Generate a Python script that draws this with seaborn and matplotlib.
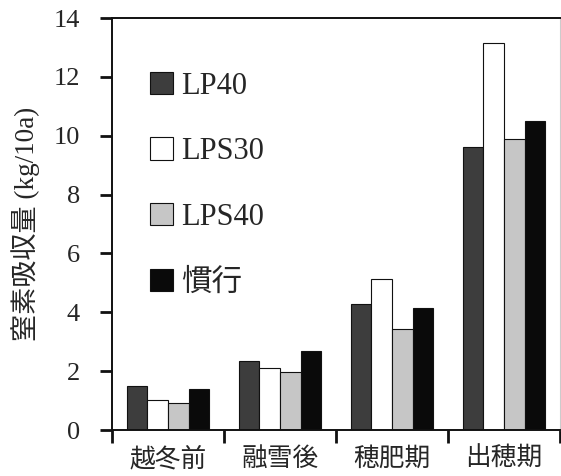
import matplotlib
matplotlib.use("Agg")
import matplotlib.pyplot as plt
import seaborn as sns
import pandas as pd
from matplotlib.ticker import FixedLocator

categories = ["越冬前", "融雪後", "穂肥期", "出穂期"]
series = ["LP40", "LPS30", "LPS40", "慣行"]
lp40 = [1.50, 2.36, 4.27, 9.63]
lps30 = [1.02, 2.10, 5.13, 13.16]
lps40 = [0.91, 1.98, 3.43, 9.88]
kanko = [1.39, 2.70, 4.16, 10.49]
yticks = [0, 2, 4, 6, 8, 10, 12, 14]

sns.set_theme(style="ticks")
plt.rcParams["font.family"] = ["Liberation Serif", "Noto Sans CJK JP"]

rows = []
for name, vals in zip(series, [lp40, lps30, lps40, kanko]):
    for c, v in zip(categories, vals):
        rows.append({"stage": c, "series": name, "value": v})
df = pd.DataFrame(rows)

palette = {"LP40": "#3d3d3d", "LPS30": "#ffffff", "LPS40": "#c6c6c6", "慣行": "#0a0a0a"}

fig = plt.figure(figsize=(5.61, 4.76), dpi=100)
ax = fig.add_axes([0.1996, 0.0966, 0.7986, 0.8654])

sns.barplot(data=df, x="stage", y="value", hue="series", order=categories,
            hue_order=series, palette=palette, width=0.74, gap=0,
            edgecolor="#111111", linewidth=0.8, ax=ax)

ax.set_xlim(-0.5, 3.5)
ax.set_ylim(0, 14)
ax.set_yticks(yticks)
ax.set_yticklabels([str(t) for t in yticks], fontsize=19)
ax.xaxis.set_minor_locator(FixedLocator([-0.5, 0.5, 1.5, 2.5, 3.5]))
ax.tick_params(axis="x", which="major", length=0, labelsize=18.5, pad=12)
ax.tick_params(axis="x", which="minor", length=9, width=2, direction="out", color="#111111")
ax.tick_params(axis="y", length=9, width=2, direction="out", color="#111111", pad=14)
ax.set_xlabel("")
ax.set_ylabel("窒素吸収量 (kg/10a)", fontsize=19.5, labelpad=10)

for s in ["left", "bottom", "top"]:
    ax.spines[s].set_linewidth(1.4)
    ax.spines[s].set_color("#111111")
ax.spines["right"].set_linewidth(0.8)
ax.spines["right"].set_color("#cccccc")

handles, labels = ax.get_legend_handles_labels()
leg = ax.legend(handles, labels, loc="upper left", bbox_to_anchor=(0.058, 0.90),
                frameon=False, fontsize=22, handlelength=0.75, handleheight=0.75,
                handletextpad=0.25, labelspacing=1.2, borderaxespad=0)

fig.savefig("out.png", dpi=100)
